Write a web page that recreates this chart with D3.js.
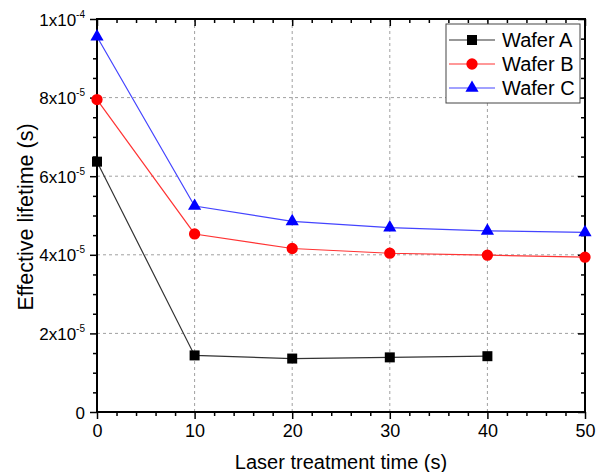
<!DOCTYPE html>
<html>
<head>
<meta charset="utf-8">
<script src="https://cdnjs.cloudflare.com/ajax/libs/d3/7.8.5/d3.min.js"></script>
<style>
  body { margin: 0; background: #fff; }
  text { font-family: Arial, "Liberation Sans", sans-serif; }
</style>
</head>
<body>
<script>
// data
var times = [0, 10, 20, 30, 40, 50];
var waferA = [6.37e-5, 1.44e-5, 1.36e-5, 1.39e-5, 1.42e-5];
var waferB = [7.95e-5, 4.53e-5, 4.16e-5, 4.04e-5, 3.99e-5, 3.94e-5];
var waferC = [9.55e-5, 5.24e-5, 4.85e-5, 4.69e-5, 4.61e-5, 4.57e-5];
var seriesNames = ["Wafer A", "Wafer B", "Wafer C"];
var xTicks = [0, 10, 20, 30, 40, 50];
var yTicks = [0, 2e-5, 4e-5, 6e-5, 8e-5, 1e-4];

var w = 603, h = 472;
var margin = {left: 97, right: 18, top: 19, bottom: 60};

var svg = d3.select("body").append("svg")
    .attr("width", w)
    .attr("height", h)
    .style("background", "#fff");

var x = d3.scaleLinear().domain([0, 50]).range([margin.left, w - margin.right]);
var y = d3.scaleLinear().domain([0, 1e-4]).range([h - margin.bottom, margin.top]);

var x0 = x.range()[0], x1 = x.range()[1];
var y0 = y.range()[0], y1 = y.range()[1];

// dashed grid
svg.append("g").selectAll("line")
    .data(xTicks.slice(1, -1))
    .enter().append("line")
    .attr("x1", function(d) { return x(d); })
    .attr("x2", function(d) { return x(d); })
    .attr("y1", y0).attr("y2", y1)
    .style("stroke", "#a0a0a0")
    .style("stroke-dasharray", "3,3");

svg.append("g").selectAll("line")
    .data(yTicks.slice(1, -1))
    .enter().append("line")
    .attr("y1", function(d) { return y(d); })
    .attr("y2", function(d) { return y(d); })
    .attr("x1", x0).attr("x2", x1)
    .style("stroke", "#a0a0a0")
    .style("stroke-dasharray", "3,3");

var xMinor = d3.range(0, 50.01, 2).filter(function(d) { return d % 10 !== 0; });
var yMinor = d3.range(0, 1.0001e-4, 0.5e-5).filter(function(d, i) { return i % 4 !== 0; });

function styleAxis(g) {
    g.select(".domain").remove();
    g.selectAll(".tick line").style("stroke", "#000").style("stroke-width", 1.5);
}

// bottom axis (ticks outside)
svg.append("g")
    .attr("transform", "translate(0," + y0 + ")")
    .call(d3.axisBottom(x).tickValues(xTicks).tickSize(7).tickPadding(5).tickFormat(d3.format("d")))
    .call(styleAxis)
    .selectAll("text").style("font-size", "18px").style("fill", "#000");
svg.append("g")
    .attr("transform", "translate(0," + y0 + ")")
    .call(d3.axisBottom(x).tickValues(xMinor).tickSize(4).tickFormat(""))
    .call(styleAxis);

// top axis (ticks inside)
svg.append("g")
    .attr("transform", "translate(0," + y1 + ")")
    .call(d3.axisTop(x).tickValues(xTicks).tickSize(-7).tickFormat(""))
    .call(styleAxis);
svg.append("g")
    .attr("transform", "translate(0," + y1 + ")")
    .call(d3.axisTop(x).tickValues(xMinor).tickSize(-4).tickFormat(""))
    .call(styleAxis);

// left axis (ticks outside)
var leftAxis = svg.append("g")
    .attr("transform", "translate(" + x0 + ",0)")
    .call(d3.axisLeft(y).tickValues(yTicks).tickSize(7).tickPadding(5).tickFormat(""))
    .call(styleAxis);
svg.append("g")
    .attr("transform", "translate(" + x0 + ",0)")
    .call(d3.axisLeft(y).tickValues(yMinor).tickSize(4).tickFormat(""))
    .call(styleAxis);

// right axis (ticks inside)
svg.append("g")
    .attr("transform", "translate(" + x1 + ",0)")
    .call(d3.axisRight(y).tickValues(yTicks).tickSize(-7).tickFormat(""))
    .call(styleAxis);
svg.append("g")
    .attr("transform", "translate(" + x1 + ",0)")
    .call(d3.axisRight(y).tickValues(yMinor).tickSize(-4).tickFormat(""))
    .call(styleAxis);

// y tick labels as a x 10^b
leftAxis.selectAll(".tick").each(function(d) {
    var t = d3.select(this).append("text")
        .attr("x", -12)
        .attr("y", 6)
        .attr("text-anchor", "end")
        .style("font-size", "17px")
        .style("fill", "#000");
    if (d === 0) { t.text("0"); return; }
    var e = Math.floor(Math.log10(d) + 1e-9);
    var m = Math.round(d / Math.pow(10, e));
    t.append("tspan").text(m + "x10");
    t.append("tspan").attr("dy", -8).style("font-size", "10px").text(e);
});

// frame
svg.append("rect")
    .attr("x", x0).attr("y", y1)
    .attr("width", x1 - x0).attr("height", y0 - y1)
    .style("fill", "none")
    .style("stroke", "#000")
    .style("stroke-width", 2);

// axis titles
svg.append("text")
    .attr("x", (x0 + x1) / 2)
    .attr("y", 469)
    .attr("text-anchor", "middle")
    .style("font-size", "20px")
    .text("Laser treatment time (s)");

svg.append("text")
    .attr("transform", "translate(33,217) rotate(-90)")
    .attr("text-anchor", "middle")
    .style("font-size", "21.5px")
    .text("Effective lifetime (s)");

// series
var series = [
    {name: seriesNames[0], values: waferA, color: "#000", line: "#333", shape: d3.symbolSquare, size: 100},
    {name: seriesNames[1], values: waferB, color: "#ff0000", line: "#ff3333", shape: d3.symbolCircle, size: 100},
    {name: seriesNames[2], values: waferC, color: "#0000ff", line: "#4444ff", shape: d3.symbolTriangle, size: 75}
];

var line = d3.line()
    .x(function(d, i) { return x(times[i]); })
    .y(function(d) { return y(d); });

series.forEach(function(s) {
    svg.append("path")
        .datum(s.values)
        .attr("d", line)
        .style("fill", "none")
        .style("stroke", s.line)
        .style("stroke-width", 1.2);

    svg.selectAll(null)
        .data(s.values)
        .enter().append("path")
        .attr("d", d3.symbol().type(s.shape).size(s.size))
        .attr("transform", function(d, i) { return "translate(" + x(times[i]) + "," + y(d) + ")"; })
        .style("fill", s.color);
});

// legend
var legend = svg.append("g");
legend.append("rect")
    .attr("x", 446).attr("y", 24)
    .attr("width", 134).attr("height", 79)
    .style("fill", "#fff")
    .style("stroke", "#444")
    .style("stroke-width", 1);

series.forEach(function(s, i) {
    var ly = 40 + i * 24;
    legend.append("line")
        .attr("x1", 449).attr("x2", 495)
        .attr("y1", ly).attr("y2", ly)
        .style("stroke", s.line)
        .style("stroke-width", 1.2);
    legend.append("path")
        .attr("d", d3.symbol().type(s.shape).size(s.size))
        .attr("transform", "translate(472," + ly + ")")
        .style("fill", s.color);
    legend.append("text")
        .attr("x", 502).attr("y", ly + 7)
        .style("font-size", "20px")
        .text(s.name);
});
</script>
</body>
</html>
